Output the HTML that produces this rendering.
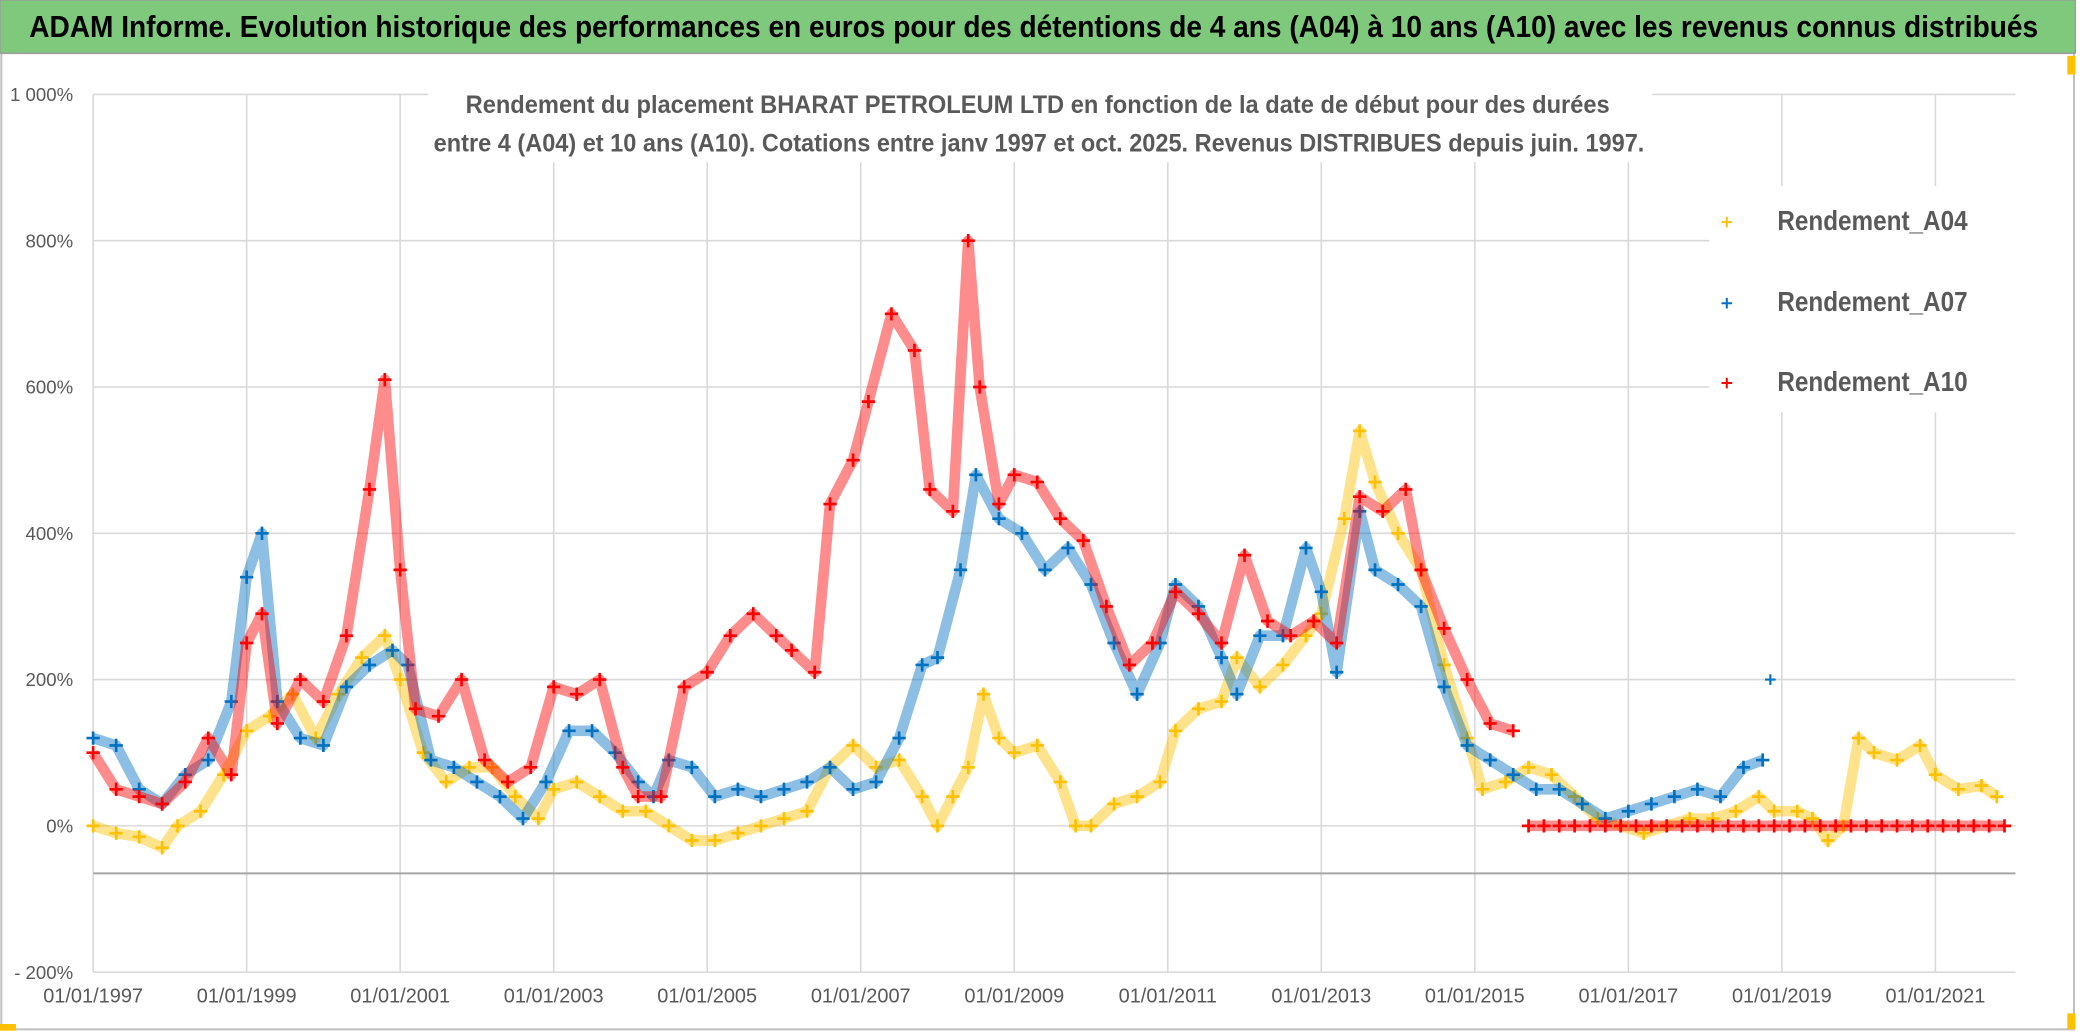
<!DOCTYPE html>
<html><head><meta charset="utf-8"><style>
html,body{margin:0;padding:0;background:#fff;}
svg{display:block;}
text{font-family:"Liberation Sans Narrow","Liberation Sans",sans-serif;}
</style></head><body>
<svg id="chart" width="2086" height="1032" viewBox="0 0 1568 776" preserveAspectRatio="none" xmlns="http://www.w3.org/2000/svg">
<rect x="0" y="0" width="1568" height="776" fill="#fff"/>
<rect x="1" y="40" width="1558" height="734" fill="#fff" stroke="#bfbfbf" stroke-width="1.5"/>
<rect x="0" y="0" width="1560" height="40" fill="#7fc97c" stroke="#9a9a9a" stroke-width="1"/>
<text x="22" y="28" font-size="23" font-weight="bold" fill="#000" textLength="1510" lengthAdjust="spacingAndGlyphs">ADAM Informe. Evolution historique des performances en euros pour des détentions de 4 ans (A04) à 10 ans (A10) avec les revenus connus distribués</text>
<rect x="1554" y="42" width="6" height="14" fill="#ffc000"/><rect x="1554" y="762" width="6" height="12" fill="#ffc000"/><rect x="0" y="770" width="12" height="5" fill="#ffc000"/>
<g id="grid"></g>
<g id="axes"></g>
<g id="series"></g>
<rect x="322" y="60" width="920" height="62" fill="#fff"/>
<text x="780" y="85" font-size="19" font-weight="bold" fill="#595959" text-anchor="middle" textLength="860" lengthAdjust="spacingAndGlyphs">Rendement du placement BHARAT PETROLEUM LTD en fonction de la date de début pour des durées</text>
<text x="781" y="114" font-size="19" font-weight="bold" fill="#595959" text-anchor="middle" textLength="910" lengthAdjust="spacingAndGlyphs">entre 4 (A04) et 10 ans (A10). Cotations entre janv 1997 et oct. 2025. Revenus DISTRIBUES depuis juin. 1997.</text>
<g id="legend">
<rect x="1285" y="140" width="230" height="170" fill="#fff"/>
<g><path d="M1294 167h8M1298 163v8" stroke="#ffc000" stroke-width="1.5"/><text x="1336" y="173" font-size="21" font-weight="bold" fill="#595959" textLength="143" lengthAdjust="spacingAndGlyphs">Rendement_A04</text></g>
<g><path d="M1294 228h8M1298 224v8" stroke="#0070c0" stroke-width="1.5"/><text x="1336" y="234" font-size="21" font-weight="bold" fill="#595959" textLength="143" lengthAdjust="spacingAndGlyphs">Rendement_A07</text></g>
<g><path d="M1294 288h8M1298 284v8" stroke="#ff0000" stroke-width="1.5"/><text x="1336" y="294" font-size="21" font-weight="bold" fill="#595959" textLength="143" lengthAdjust="spacingAndGlyphs">Rendement_A10</text></g>
</g>
</svg>
<script>
const yTicks=[1000,800,600,400,200,0,-200];
const yTickLabels=["1 000%","800%","600%","400%","200%","0%","- 200%"];
const xTicks=[1997,1999,2001,2003,2005,2007,2009,2011,2013,2015,2017,2019,2021];
const xTickLabels=["01/01/1997","01/01/1999","01/01/2001","01/01/2003","01/01/2005","01/01/2007","01/01/2009","01/01/2011","01/01/2013","01/01/2015","01/01/2017","01/01/2019","01/01/2021"];
const a04Dates=[1997.0,1997.3,1997.6,1997.9,1998.1,1998.4,1998.7,1999.0,1999.3,1999.6,1999.9,2000.2,2000.5,2000.8,2001.0,2001.3,2001.6,2001.9,2002.2,2002.5,2002.8,2003.0,2003.3,2003.6,2003.9,2004.2,2004.5,2004.8,2005.1,2005.4,2005.7,2006.0,2006.3,2006.6,2006.9,2007.2,2007.5,2007.8,2008.0,2008.2,2008.4,2008.6,2008.8,2009.0,2009.3,2009.6,2009.8,2010.0,2010.3,2010.6,2010.9,2011.1,2011.4,2011.7,2011.9,2012.2,2012.5,2012.8,2013.0,2013.3,2013.5,2013.7,2014.0,2014.3,2014.6,2014.9,2015.1,2015.4,2015.7,2016.0,2016.3,2016.6,2016.9,2017.2,2017.5,2017.8,2018.1,2018.4,2018.7,2018.9,2019.2,2019.4,2019.6,2019.8,2020.0,2020.2,2020.5,2020.8,2021.0,2021.3,2021.6,2021.8];
const a04Values=[0,-10,-15,-30,0,20,70,130,150,180,120,180,230,260,200,100,60,80,80,40,10,50,60,40,20,20,0,-20,-20,-10,0,10,20,80,110,80,90,40,0,40,80,180,120,100,110,60,0,0,30,40,60,130,160,170,230,190,220,260,290,420,540,470,400,350,220,120,50,60,80,70,40,10,0,-10,0,10,10,20,40,20,20,10,-20,0,120,100,90,110,70,50,55,40];
const a07Dates=[1997.0,1997.3,1997.6,1997.9,1998.2,1998.5,1998.8,1999.0,1999.2,1999.4,1999.7,2000.0,2000.3,2000.6,2000.9,2001.1,2001.4,2001.7,2002.0,2002.3,2002.6,2002.9,2003.2,2003.5,2003.8,2004.1,2004.3,2004.5,2004.8,2005.1,2005.4,2005.7,2006.0,2006.3,2006.6,2006.9,2007.2,2007.5,2007.8,2008.0,2008.3,2008.5,2008.8,2009.1,2009.4,2009.7,2010.0,2010.3,2010.6,2010.9,2011.1,2011.4,2011.7,2011.9,2012.2,2012.5,2012.8,2013.0,2013.2,2013.5,2013.7,2014.0,2014.3,2014.6,2014.9,2015.2,2015.5,2015.8,2016.1,2016.4,2016.7,2017.0,2017.3,2017.6,2017.9,2018.2,2018.5,2018.75];
const a07Values=[120,110,50,30,70,90,170,340,400,170,120,110,190,220,240,220,90,80,60,40,10,60,130,130,100,60,40,90,80,40,50,40,50,60,80,50,60,120,220,230,350,480,420,400,350,380,330,250,180,250,330,300,230,180,260,260,380,320,210,430,350,330,300,190,110,90,70,50,50,30,10,20,30,40,50,40,80,90];
const a10Dates=[1997.0,1997.3,1997.6,1997.9,1998.2,1998.5,1998.8,1999.0,1999.2,1999.4,1999.7,2000.0,2000.3,2000.6,2000.8,2001.0,2001.2,2001.5,2001.8,2002.1,2002.4,2002.7,2003.0,2003.3,2003.6,2003.9,2004.1,2004.4,2004.7,2005.0,2005.3,2005.6,2005.9,2006.1,2006.4,2006.6,2006.9,2007.1,2007.4,2007.7,2007.9,2008.2,2008.4,2008.55,2008.8,2009.0,2009.3,2009.6,2009.9,2010.2,2010.5,2010.8,2011.1,2011.4,2011.7,2012.0,2012.3,2012.6,2012.9,2013.2,2013.5,2013.8,2014.1,2014.3,2014.6,2014.9,2015.2,2015.5];
const a10Values=[100,50,40,30,60,120,70,250,290,140,200,170,260,460,610,350,160,150,200,90,60,80,190,180,200,80,40,40,190,210,260,290,260,240,210,440,500,580,700,650,460,430,800,600,440,480,470,420,390,300,220,250,320,290,250,370,280,260,280,250,450,430,460,350,270,200,140,130];
const a10ZeroDates=[2015.7,2015.9,2016.1,2016.3,2016.5,2016.7,2016.9,2017.1,2017.3,2017.5,2017.7,2017.9,2018.1,2018.3,2018.5,2018.7,2018.9,2019.1,2019.3,2019.5,2019.7,2019.9,2020.1,2020.3,2020.5,2020.7,2020.9,2021.1,2021.3,2021.5,2021.7,2021.9];
const a10ZeroValues=[0,0,0,0,0,0,0,0,0,0,0,0,0,0,0,0,0,0,0,0,0,0,0,0,0,0,0,0,0,0,0,0];

const NS="http://www.w3.org/2000/svg";
const X0=70,X1=1515;
function xs(t){return 70+(t-1997)*57.7;}
function ys(v){return 621-v*0.55;}
function mk(tag,attrs,parent){const e=document.createElementNS(NS,tag);for(const k in attrs)e.setAttribute(k,attrs[k]);parent.appendChild(e);return e;}
const grid=document.getElementById('grid'),axes=document.getElementById('axes'),ser=document.getElementById('series');
yTicks.forEach((v,i)=>{
  const l=mk('line',{x1:X0,x2:X1,y1:ys(v),y2:ys(v),stroke:'#d9d9d9','stroke-width':1.2},grid);
  
  
  const t=mk('text',{x:55,y:ys(v)+5,'font-size':14,fill:'#595959','text-anchor':'end'},axes);
  t.textContent=yTickLabels[i];
  
  
});
xTicks.forEach((yr,i)=>{
  const l=mk('line',{x1:xs(yr),x2:xs(yr),y1:ys(1000),y2:ys(-200),stroke:'#d9d9d9','stroke-width':1.2},grid);
  
  
  const t=mk('text',{x:xs(yr),y:754,'font-size':15,fill:'#595959','text-anchor':'middle'},axes);
  t.textContent=xTickLabels[i];
  
  
});
const ax=mk('line',{x1:X0,x2:X1,y1:ys(-65),y2:ys(-65),stroke:'#a6a6a6','stroke-width':1.5},axes);



function drawSeries(dates,vals,color,name){
  const g=mk('g',{},ser);
  
  
  const pts=dates.map((d,i)=>xs(d).toFixed(1)+','+ys(vals[i]).toFixed(1)).join(' ');
  mk('polyline',{points:pts,fill:'none',stroke:color,'stroke-width':8,'stroke-opacity':0.45,'stroke-linejoin':'round'},g);
  dates.forEach((d,i)=>{
    const x=xs(d),y=ys(vals[i]);
    const p=mk('path',{d:`M${x-5} ${y}h10M${x} ${y-5}v10`,stroke:color,'stroke-width':2},g);
    
    
  });
}
drawSeries(a04Dates,a04Values,'#ffc000','series-a04');
drawSeries(a07Dates,a07Values,'#0070c0','series-a07');
drawSeries(a10Dates,a10Values,'#ff0000','series-a10');
drawSeries(a10ZeroDates,a10ZeroValues,'#ff0000','series-a10-zero');
const outlier=mk('path',{d:`M${xs(2018.85)-4} ${ys(200)}h8M${xs(2018.85)} ${ys(200)-4}v8`,stroke:'#0070c0','stroke-width':1.6},ser);


</script>
</body></html>
